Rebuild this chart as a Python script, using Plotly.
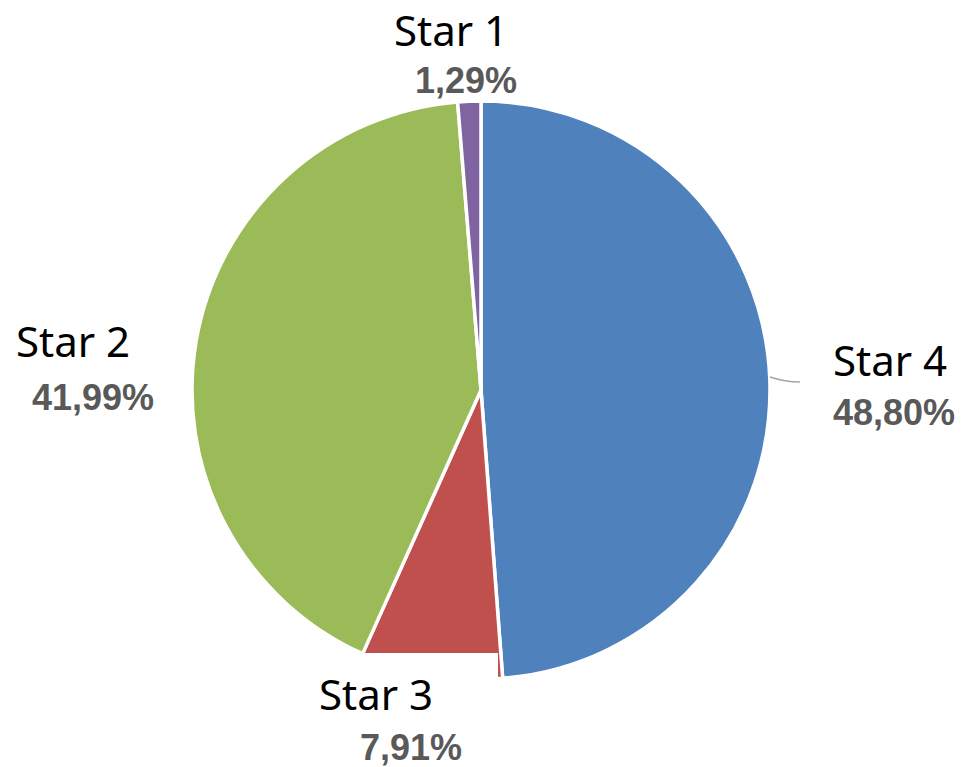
import plotly.graph_objects as go

# Data
categories = ["Star 4", "Star 3", "Star 2", "Star 1"]
values = [48.80, 7.91, 41.99, 1.29]
colors = ["#4F81BD", "#C0504D", "#9BBB59", "#8064A2"]

W, H = 972, 767

def px(x):
    return x / W

def py(y):
    return 1 - y / H

fig = go.Figure()
fig.add_trace(go.Pie(
    labels=categories,
    values=values,
    sort=False,
    direction="clockwise",
    rotation=0,
    marker=dict(colors=colors, line=dict(color="white", width=3.5)),
    textinfo="none",
    hoverinfo="label+percent",
    showlegend=False,
    domain=dict(x=[px(192), px(770)], y=[py(679), py(101)]),
))

# label positions (pixel centers): name, percent
label_pos = {
    "Star 1": ((451, 29), (466, 80)),
    "Star 2": ((73, 341), (93, 397)),
    "Star 3": ((376, 693), (411, 747)),
    "Star 4": ((890, 360), (894, 412)),
}

annotations = []
for cat, val in zip(categories, values):
    (nx, ny), (vx, vy) = label_pos[cat]
    annotations.append(dict(
        x=px(nx), y=py(ny), xref="paper", yref="paper",
        text=cat, showarrow=False, xanchor="center", yanchor="middle",
        borderpad=0, borderwidth=0,
        font=dict(family="Noto Sans", size=42, color="#000000"),
    ))
    annotations.append(dict(
        x=px(vx), y=py(vy), xref="paper", yref="paper",
        text=f"{val:.2f}%".replace(".", ","), showarrow=False,
        xanchor="center", yanchor="middle",
        borderpad=0, borderwidth=0,
        font=dict(family="Liberation Sans", size=36, color="#595959", weight="bold"),
    ))

shapes = [
    # white label box clipping the bottom of the pie
    dict(type="rect", xref="paper", yref="paper",
         x0=px(300), x1=px(498), y0=0, y1=py(653),
         fillcolor="white", line=dict(width=0), layer="above"),
    # leader line for Star 4
    dict(type="path", xref="paper", yref="paper",
         path=f"M {px(770)},{py(377)} Q {px(785)},{py(382)} {px(800)},{py(382)}",
         line=dict(color="#A6A6A6", width=1.5), layer="above"),
]

fig.update_layout(
    width=W, height=H,
    margin=dict(l=0, r=0, t=0, b=0),
    paper_bgcolor="white",
    plot_bgcolor="white",
    annotations=annotations,
    shapes=shapes,
)

fig.write_html(
    "out.html",
    config={"displayModeBar": False},
    post_script="document.body.style.margin='0';document.body.style.padding='0';",
)
